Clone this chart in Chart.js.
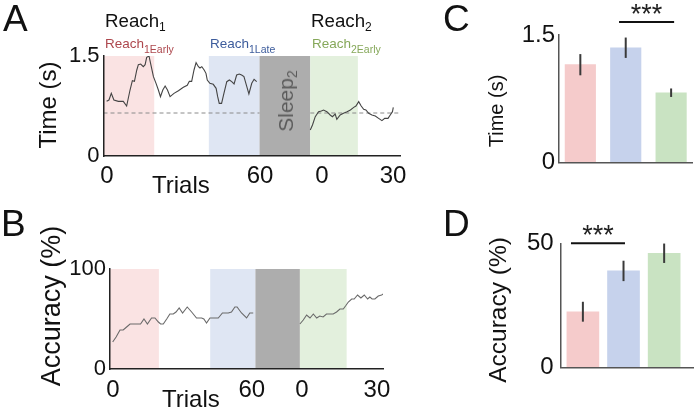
<!DOCTYPE html>
<html>
<head>
<meta charset="utf-8">
<script src="https://cdn.jsdelivr.net/npm/chart.js@4.4.0/dist/chart.umd.min.js"></script>
<style>
body { margin: 0; background: #fff; }
#fig { position: relative; width: 698px; height: 416px; overflow: hidden; font-family: "Liberation Sans", Arial, sans-serif; color: #111; }
#fig canvas { position: absolute; }
.t { position: absolute; white-space: nowrap; line-height: 1; }
.rot { transform: translate(-50%, -50%) rotate(-90deg); }
</style>
</head>
<body>
<div id="fig">
  <canvas id="cA" width="420" height="200" style="left:0;top:0"></canvas>
  <canvas id="cB" width="420" height="216" style="left:0;top:200px"></canvas>
  <canvas id="cC" width="258" height="200" style="left:440px;top:0"></canvas>
  <canvas id="cD" width="258" height="216" style="left:440px;top:200px"></canvas>

  <div class="t" style="left:3px;top:0;font-size:37px">A</div>
  <div class="t" style="left:1px;top:205px;font-size:37px">B</div>
  <div class="t" style="left:443px;top:0;font-size:37px">C</div>
  <div class="t" style="left:443px;top:205px;font-size:37px">D</div>

  <div class="t" style="left:105px;top:11.5px;font-size:18.7px">Reach<span style="font-size:12px;vertical-align:-4.4px">1</span></div>
  <div class="t" style="left:311px;top:11.5px;font-size:18.7px">Reach<span style="font-size:12px;vertical-align:-4.4px">2</span></div>
  <div class="t" style="left:105px;top:37px;font-size:13.5px;color:#ad474d">Reach<span style="font-size:10.5px;vertical-align:-4.5px">1Early</span></div>
  <div class="t" style="left:210px;top:37px;font-size:13.5px;color:#3d5c9c">Reach<span style="font-size:10.5px;vertical-align:-4.5px">1Late</span></div>
  <div class="t" style="left:312px;top:37px;font-size:13.5px;color:#86a85a">Reach<span style="font-size:10.5px;vertical-align:-4.5px">2Early</span></div>
  <div class="t rot" style="left:287px;top:101px;font-size:21px;color:#5a5a5a">Sleep<span style="font-size:14px;vertical-align:-4px">2</span></div>

  <div class="t" style="left:152px;top:173px;font-size:24px">Trials</div>
  <div class="t" style="left:162px;top:387px;font-size:24px">Trials</div>
  <div class="t rot" style="left:48px;top:105px;font-size:24px">Time (s)</div>
  <div class="t rot" style="left:51px;top:306px;font-size:27px">Accuracy (%)</div>
  <div class="t rot" style="left:496px;top:111px;font-size:20px">Time (s)</div>
  <div class="t rot" style="left:498px;top:310px;font-size:24.5px">Accuracy (%)</div>
</div>

<script>
const FONT = "'Liberation Sans', Arial, sans-serif";

// A: reach time (s) per trial, running trace
const timeR1Trials = [1.2, 2.1, 3, 4, 5.7, 7.6, 8.9, 10.2, 11.1, 11.9, 12.8, 13.4, 14.3, 15.3, 16, 16.6, 17.5, 18.1, 19.2, 20.2,
  21.1, 21.9, 22.8, 23.7, 24.6, 25.6, 27.1, 28.8, 30.7, 32.2, 33, 33.9, 34.8, 35.6, 36.5, 37.1, 37.8, 38.7, 39.4, 39.9,
  40.9, 42.2, 43.3, 43.9, 44.5, 45.4, 46.3, 47.4, 48.4, 49.3, 50.2, 51.2, 52.2, 53.1, 54, 55.1, 55.9, 57, 57.9, 58.9];
const timeR1 = [0.82, 0.84, 0.94, 0.84, 0.82, 0.82, 0.75, 0.99, 1.13, 1.12, 1.29, 1.37, 1.38, 1.34, 1.37, 1.48, 1.5, 1.39, 1.19, 1.09,
  0.99, 0.89, 0.99, 1.05, 0.99, 0.89, 0.94, 0.98, 1.03, 1.06, 1.12, 1.12, 1.29, 1.4, 1.34, 1.32, 1.34, 1.29, 1.24, 1.14,
  1.09, 1.075, 1.015, 0.89, 0.79, 0.79, 0.94, 1.115, 1.14, 1.115, 1.08, 1.215, 1.23, 1.215, 1.19, 1.04, 0.93, 1.09, 1.15, 1.115];
const timeR2Trials = [0, 0.8, 1.8, 3, 4, 4.8, 6, 7.2, 8, 9, 9.6, 10.8, 12, 13.3, 14.5, 15.7, 16.5, 17.5, 18.4, 19.3,
  20.1, 21.1, 22.3, 23.5, 24.7, 25.9, 26.9, 28.1, 28.9, 29.7, 30];
const timeR2 = [0.39, 0.465, 0.59, 0.665, 0.675, 0.69, 0.665, 0.615, 0.59, 0.63, 0.55, 0.615, 0.64, 0.665, 0.69, 0.73, 0.75, 0.815, 0.75, 0.7,
  0.69, 0.64, 0.615, 0.6, 0.565, 0.53, 0.565, 0.565, 0.615, 0.665, 0.73];
const timeBaseline = 0.645;

// B: accuracy (%) per trial
const accR1Trials = [1.1, 2.5, 4.1, 5.4, 6.8, 8.2, 10.9, 12.5, 13.9, 15.3, 17, 18.4, 19.8, 20.7, 21.8, 23.2, 24.5, 25.9, 27, 28.3,
  29.7, 31.6, 33.4, 35.4, 37.5, 38.4, 39.5, 40.9, 42.9, 44.3, 46, 48.4, 49.7, 51.1, 52, 53.8, 55.9, 57.2, 58.6];
const accR1 = [27, 32, 39, 39, 42, 45, 45, 45, 50, 45, 51, 51, 47, 45, 45, 50, 55, 55, 57, 61,
  56, 62, 57, 51, 51, 50, 46, 51, 51, 51, 56, 56, 57, 62, 62, 56, 51, 56, 56];
const accR2Trials = [0, 1.2, 2.4, 3.6, 4.8, 6, 7.1, 8.3, 9.5, 11.9, 13.1, 14.3, 15.5, 16.3, 17.3, 18.5, 19.4, 20.6, 21.8, 23,
  24.2, 25, 25.8, 26.8, 28, 29.2, 29.8];
const accR2 = [45, 49, 54, 51, 55, 51, 53, 52, 55, 55, 57, 60, 60, 63, 67, 70, 70, 74, 71, 74,
  70, 72, 70, 70, 73, 74, 75];

const trialLabels = ['0', '60', '0', '30'];

// C, D: group means and errors
const groups = ['Reach1Early', 'Reach1Late', 'Reach2Early'];
const groupColors = ['#f5cbcb', '#c6d2ec', '#c9e3c2'];
const timeMeans = [1.15, 1.35, 0.82];
const timeErr = [0.125, 0.12, 0.05];
const accMeans = [22.5, 38.9, 46];
const accErr = [4, 4.1, 3.9];

function trace(trials, vals, start, scale) {
  return trials.map((t, i) => ({ x: start + t * scale, y: vals[i] }));
}

function tickFont(size) {
  return { family: FONT, size: size };
}

function traceChart(id, o) {
  const bands = [
    [o.early1[0], o.early1[1], '#fae3e3'],
    [o.late1[0], o.late1[1], '#dfe6f3'],
    [o.late1[1], o.r2Start, '#adadad'],
    [o.r2Start + o.early2[0] * o.r2Scale, o.r2Start + o.early2[1] * o.r2Scale, '#e3f0dd']
  ];
  const bandPlugin = {
    id: 'bands',
    beforeDatasetsDraw(chart) {
      const { ctx, chartArea, scales: { x } } = chart;
      ctx.save();
      bands.forEach(b => {
        const x0 = x.getPixelForValue(b[0]);
        const x1 = x.getPixelForValue(b[1]);
        ctx.fillStyle = b[2];
        ctx.fillRect(x0, chartArea.top, x1 - x0, chartArea.bottom - chartArea.top);
      });
      ctx.restore();
    }
  };
  const datasets = [
    { data: trace(o.r1Trials, o.r1, 0, 1), borderColor: o.lineColor, borderWidth: 1.1 },
    { data: trace(o.r2Trials, o.r2, o.r2Start, o.r2Scale), borderColor: o.lineColor, borderWidth: 1.1 }
  ];
  if (o.baseline != null) {
    datasets.push({ data: [{ x: 0, y: o.baseline }, { x: o.late1[1], y: o.baseline }], borderColor: '#8a8a8a', borderWidth: 1, borderDash: [4, 3] });
    datasets.push({ data: [{ x: o.r2Start, y: o.baseline }, { x: o.xMax, y: o.baseline }], borderColor: '#8a8a8a', borderWidth: 1, borderDash: [4, 3] });
  }
  datasets.forEach(d => { d.showLine = true; d.pointRadius = 0; d.tension = 0; });

  new Chart(id, {
    type: 'scatter',
    data: { datasets: datasets },
    options: {
      responsive: false,
      animation: false,
      devicePixelRatio: 1,
      layout: { padding: { left: 0, top: o.top, right: o.padRight, bottom: 0 } },
      plugins: { legend: { display: false }, tooltip: { enabled: false } },
      scales: {
        x: {
          type: 'linear', min: 0, max: o.xMax,
          grid: { display: false, drawTicks: false },
          border: { display: true, color: '#222', width: 1.5, z: 1 },
          afterBuildTicks: s => { s.ticks = o.tickPos.map(v => ({ value: v })); },
          afterFit: s => { s.height = o.xh; },
          ticks: { autoSkip: false, maxRotation: 0, padding: o.xPad, color: '#111', font: tickFont(24),
            callback: (v, i) => trialLabels[i] }
        },
        y: {
          min: 0, max: o.yMax,
          grid: { display: false, drawTicks: false },
          border: { display: true, color: '#222', width: 1.5, z: 1 },
          afterFit: s => { s.width = o.left; },
          ticks: { stepSize: o.yMax, padding: 4, color: '#111', font: tickFont(22) }
        }
      }
    },
    plugins: [bandPlugin]
  });
}

traceChart('cA', {
  r1Trials: timeR1Trials, r1: timeR1, r2Trials: timeR2Trials, r2: timeR2, baseline: timeBaseline,
  early1: [0, 19.5], late1: [40.5, 60], early2: [0, 17.2],
  r2Start: 79.5, r2Scale: 1.064, xMax: 114, yMax: 1.5,
  tickPos: [1.35, 60.2, 84, 111.3],
  left: 103.5, top: 56, padRight: 20, xh: 44, xPad: 6, lineColor: '#444'
});

traceChart('cB', {
  r1Trials: accR1Trials, r1: accR1, r2Trials: accR2Trials, r2: accR2, baseline: null,
  early1: [0, 20], late1: [41, 59.5], early2: [0, 16.7],
  r2Start: 77.7, r2Scale: 1.145, xMax: 111.7, yMax: 100,
  tickPos: [1.2, 58, 78.5, 109.2],
  left: 110, top: 69, padRight: 37, xh: 47, xPad: 7, lineColor: '#6a6a6a'
});

function barChart(id, o) {
  const extras = {
    id: 'extras',
    afterDatasetsDraw(chart) {
      const { ctx, scales: { x, y } } = chart;
      const meta = chart.getDatasetMeta(0);
      ctx.save();
      ctx.strokeStyle = '#3a3a3a';
      ctx.lineWidth = 2;
      meta.data.forEach((bar, i) => {
        ctx.beginPath();
        ctx.moveTo(bar.x, y.getPixelForValue(o.means[i] + o.err[i]));
        ctx.lineTo(bar.x, y.getPixelForValue(o.means[i] - o.err[i]));
        ctx.stroke();
      });
      // significance bracket
      const x0 = x.getPixelForValue(o.sig[0]);
      const x1 = x.getPixelForValue(o.sig[1]);
      const sy = y.getPixelForValue(o.sigY);
      ctx.strokeStyle = '#111';
      ctx.beginPath();
      ctx.moveTo(x0, sy);
      ctx.lineTo(x1, sy);
      ctx.stroke();
      ctx.fillStyle = '#222';
      ctx.font = '27px ' + FONT;
      ctx.textAlign = 'center';
      ctx.textBaseline = 'alphabetic';
      ctx.fillText('***', (x0 + x1) / 2, sy + 1);
      ctx.restore();
    }
  };
  new Chart(id, {
    type: 'bar',
    data: {
      datasets: [{
        label: o.label,
        data: o.means.map((m, i) => ({ x: i + 1, y: m })),
        backgroundColor: groupColors,
        barThickness: o.barW
      }]
    },
    options: {
      responsive: false,
      animation: false,
      devicePixelRatio: 1,
      layout: { padding: { left: 0, top: o.top, right: o.padRight, bottom: 0 } },
      plugins: { legend: { display: false }, tooltip: { enabled: false } },
      scales: {
        x: {
          type: 'linear', min: o.xMin, max: o.xMax, offset: false,
          grid: { display: false, drawTicks: false, offset: false },
          border: { display: true, color: '#555', width: 1.5, z: 1 },
          ticks: { display: false },
          afterFit: s => { s.height = o.xh; }
        },
        y: {
          min: 0, max: o.yMax,
          grid: { display: false, drawTicks: false },
          border: { display: true, color: '#555', width: 1.5, z: 1 },
          afterFit: s => { s.width = o.left; },
          ticks: { stepSize: o.yMax, padding: o.yPad, color: '#111', font: tickFont(24) }
        }
      }
    },
    plugins: [extras]
  });
}

barChart('cC', {
  label: 'Time (s)', means: timeMeans, err: timeErr, yMax: 1.5,
  sig: [1.853, 3.066], sigY: 1.653,
  xMin: 0.53, xMax: 3.46, barW: 30.5,
  left: 119, top: 35, padRight: 6, xh: 37.7, yPad: 4
});

barChart('cD', {
  label: 'Accuracy (%)', means: accMeans, err: accErr, yMax: 50,
  sig: [0.707, 2.036], sigY: 50,
  xMin: 0.454, xMax: 3.71, barW: 32,
  left: 120.7, top: 43.3, padRight: 5, xh: 48.3, yPad: 7
});
</script>
</body>
</html>
